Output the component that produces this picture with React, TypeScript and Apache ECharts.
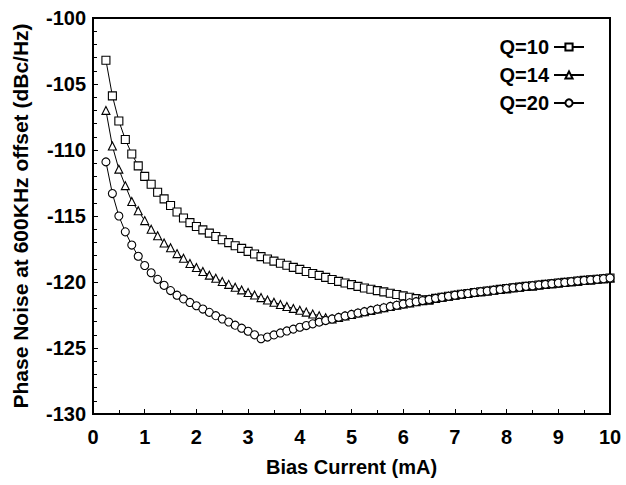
import React, { useEffect, useRef } from "react";
import * as echarts from "echarts";

const biasCurrent: number[] = [
  0.25, 0.375, 0.5, 0.625, 0.75, 0.875, 1.0, 1.125, 1.25, 1.375,
  1.5, 1.625, 1.75, 1.875, 2.0, 2.125, 2.25, 2.375, 2.5, 2.625,
  2.75, 2.875, 3.0, 3.125, 3.25, 3.375, 3.5, 3.625, 3.75, 3.875,
  4.0, 4.125, 4.25, 4.375, 4.5, 4.625, 4.75, 4.875, 5.0, 5.125,
  5.25, 5.375, 5.5, 5.625, 5.75, 5.875, 6.0, 6.125, 6.25, 6.375,
  6.5, 6.625, 6.75, 6.875, 7.0, 7.125, 7.25, 7.375, 7.5, 7.625,
  7.75, 7.875, 8.0, 8.125, 8.25, 8.375, 8.5, 8.625, 8.75, 8.875,
  9.0, 9.125, 9.25, 9.375, 9.5, 9.625, 9.75, 9.875, 10.0,
];

const q10: number[] = [
  -103.2, -105.9, -107.8, -109.2, -110.3, -111.2, -112.0, -112.6, -113.2, -113.7,
  -114.2, -114.7, -115.15, -115.5, -115.8, -116.05, -116.3, -116.55, -116.8, -117.02,
  -117.25, -117.45, -117.68, -117.88, -118.08, -118.26, -118.42, -118.58, -118.73, -118.89,
  -119.04, -119.2, -119.36, -119.5, -119.65, -119.81, -119.95, -120.08, -120.2, -120.33,
  -120.45, -120.55, -120.65, -120.75, -120.85, -120.95, -121.05, -121.15, -121.26, -121.34,
  -121.37, -121.24, -121.16, -121.08, -121.0, -120.93, -120.87, -120.8, -120.74, -120.68,
  -120.62, -120.56, -120.5, -120.44, -120.39, -120.33, -120.29, -120.23, -120.18, -120.13,
  -120.08, -120.03, -119.98, -119.93, -119.88, -119.84, -119.79, -119.75, -119.7,
];

const q14: number[] = [
  -107.0, -109.7, -111.45, -112.7, -113.9, -114.6, -115.35, -116.0, -116.5, -117.05,
  -117.4, -117.85, -118.2, -118.6, -118.9, -119.2, -119.48, -119.72, -119.96, -120.18,
  -120.4, -120.6, -120.8, -120.99, -121.18, -121.36, -121.53, -121.7, -121.86, -122.0,
  -122.14, -122.28, -122.42, -122.55, -122.7, -122.8, -122.68, -122.57, -122.46, -122.35,
  -122.25, -122.15, -122.05, -121.95, -121.85, -121.76, -121.67, -121.58, -121.49, -121.41,
  -121.32, -121.24, -121.16, -121.08, -121.0, -120.93, -120.87, -120.8, -120.74, -120.68,
  -120.62, -120.56, -120.5, -120.44, -120.39, -120.33, -120.29, -120.23, -120.18, -120.13,
  -120.08, -120.03, -119.98, -119.93, -119.88, -119.84, -119.79, -119.75, -119.7,
];

const q20: number[] = [
  -110.9, -113.3, -115.0, -116.2, -117.2, -118.05, -118.75, -119.3, -119.8, -120.25,
  -120.65, -121.0, -121.28, -121.55, -121.8, -122.05, -122.3, -122.55, -122.8, -123.03,
  -123.27, -123.5, -123.73, -124.0, -124.3, -124.17, -124.01, -123.86, -123.71, -123.57,
  -123.43, -123.3, -123.17, -123.04, -122.92, -122.8, -122.68, -122.57, -122.46, -122.35,
  -122.25, -122.15, -122.05, -121.95, -121.85, -121.76, -121.67, -121.58, -121.49, -121.41,
  -121.32, -121.24, -121.16, -121.08, -121.0, -120.93, -120.87, -120.8, -120.74, -120.68,
  -120.62, -120.56, -120.5, -120.44, -120.39, -120.33, -120.29, -120.23, -120.18, -120.13,
  -120.08, -120.03, -119.98, -119.93, -119.88, -119.84, -119.79, -119.75, -119.7,
];

const seriesNames: string[] = ["Q=10", "Q=14", "Q=20"];
const seriesSymbols: string[] = ["rect", "triangle", "circle"];

export default function App() {
  const ref = useRef<HTMLDivElement>(null);

  useEffect(() => {
    if (!ref.current) return;
    document.body.style.margin = "0";
    const chart = echarts.init(ref.current, undefined, { renderer: "svg" });
    const values = [q10, q14, q20];
    const font = "'Liberation Sans', Arial, sans-serif";
    const series = seriesNames.map((name, k) => ({
      name,
      type: "line",
      data: biasCurrent.map((x, i) => [x, values[k][i]]),
      symbol: seriesSymbols[k],
      symbolSize: 8,
      showSymbol: true,
      lineStyle: { color: "#000", width: 1 },
      itemStyle: { color: "#fff", borderColor: "#000", borderWidth: 1.1 },
      z: 2 + k,
    }));

    chart.setOption({
      animation: false,
      backgroundColor: "#fff",
      grid: {
        left: 93,
        right: 16,
        top: 18,
        bottom: 71,
        show: true,
        borderColor: "#000",
        borderWidth: 2,
      },
      legend: {
        data: seriesNames,
        orient: "vertical",
        right: 36,
        top: 32,
        align: "right",
        itemWidth: 30,
        itemHeight: 9,
        itemGap: 8,
        textStyle: {
          fontFamily: font,
          fontWeight: "bold",
          fontSize: 20,
          color: "#000",
        },
      },
      xAxis: {
        type: "value",
        min: 0,
        max: 10,
        interval: 1,
        name: "Bias Current (mA)",
        nameLocation: "middle",
        nameGap: 43,
        nameTextStyle: {
          fontFamily: font,
          fontWeight: "bold",
          fontSize: 20,
          color: "#000",
        },
        axisLine: { show: true, lineStyle: { color: "#000", width: 2 } },
        axisTick: { show: true, inside: true, length: 5, lineStyle: { color: "#000", width: 1 } },
        minorTick: { show: true, splitNumber: 2, length: 4, lineStyle: { color: "#000", width: 1 } },
        axisLabel: {
          margin: 13,
          fontFamily: "'Liberation Sans Narrow', 'Liberation Sans', Arial, sans-serif",
          fontWeight: "bold",
          fontSize: 20,
          color: "#000",
        },
        splitLine: { show: false },
      },
      yAxis: {
        type: "value",
        min: -130,
        max: -100,
        interval: 5,
        name: "Phase Noise at 600KHz offset (dBc/Hz)",
        nameLocation: "middle",
        nameGap: 62,
        nameTextStyle: {
          fontFamily: font,
          fontWeight: "bold",
          fontSize: 21,
          color: "#000",
        },
        axisLine: { show: true, lineStyle: { color: "#000", width: 2 } },
        axisTick: { show: true, inside: true, length: 5, lineStyle: { color: "#000", width: 1 } },
        minorTick: { show: true, splitNumber: 5, length: 4, lineStyle: { color: "#000", width: 1 } },
        axisLabel: {
          margin: 7,
          fontFamily: font,
          fontWeight: "bold",
          fontSize: 20,
          color: "#000",
        },
        splitLine: { show: false },
      },
      series,
    });

    return () => {
      chart.dispose();
    };
  }, []);

  return <div ref={ref} style={{ width: 626, height: 485 }} />;
}
